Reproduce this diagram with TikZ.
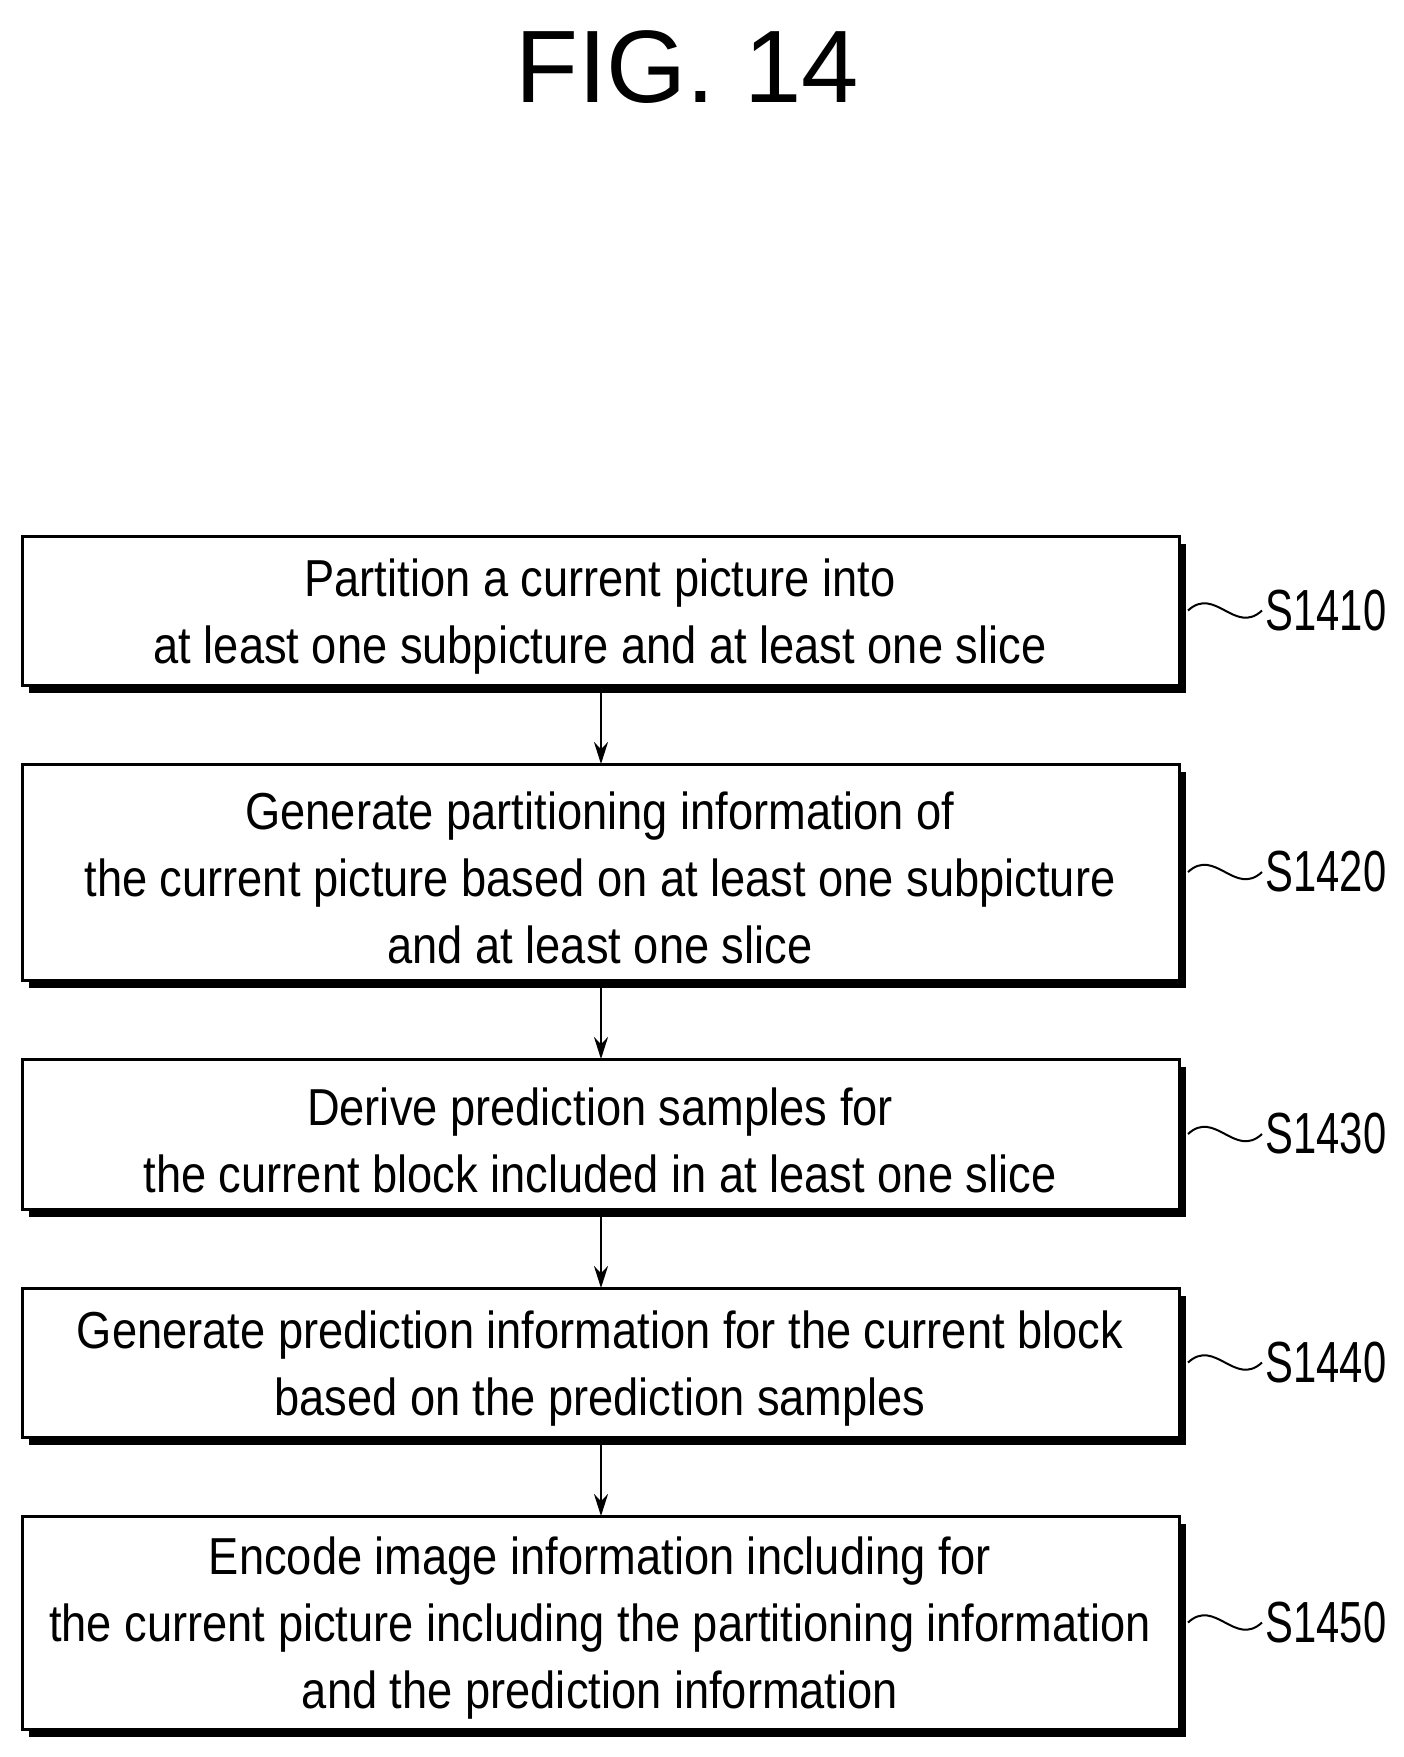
\documentclass[tikz,border=0pt]{standalone}
\usepackage{fontspec}
\setmainfont{Liberation Sans}[FakeStretch=0.87]
\newfontfamily\titlefont{Liberation Sans}[FakeStretch=1.0]
\newfontfamily\labfont{Liberation Sans}[FakeStretch=0.72]
\usetikzlibrary{arrows.meta}
\begin{document}
\begin{tikzpicture}[x=1pt,y=-1pt,
  box/.style={align=center,font=\fontsize{52}{67}\selectfont,inner sep=0},
  arr/.style={line width=2.5pt,-{Stealth[length=22pt,width=14pt]}},
  lab/.style={font=\labfont\fontsize{58}{60}\selectfont,anchor=west}]
\useasboundingbox (0,0) rectangle (1404,1757);
\node[font=\titlefont\fontsize{103}{110}\selectfont] (title) at (687,67) {FIG. 14};
\foreach \n/\a/\b/\t/\s in {
 1/536/685/{Partition a current picture into\\at least one subpicture and at least one slice}/S1410,
 2/764/980/{Generate partitioning information of\\the current picture based on at least one subpicture\\and at least one slice}/S1420,
 3/1059/1209/{Derive prediction samples for\\the current block included in at least one slice}/S1430,
 4/1288/1437/{Generate prediction information for the current block\\based on the prediction samples}/S1440,
 5/1516/1729/{Encode image information including for\\the current picture including the partitioning information\\and the prediction information}/S1450}{
  \fill (29,\a+8) rectangle (1186,\b+8);
  \draw[line width=3pt,fill=white] (22,\a) rectangle (1179,\b);
  \node[box] (b\n) at (600,{(\a+\b)/2+6}) {\t};
  \coordinate (t\n) at (601,\a);
  \coordinate (o\n) at (601,\b+8);
  \coordinate (e\n) at (1188,{(\a+\b)/2});
  \node[lab] (s\n) at (1262,{(\a+\b)/2}) {\s};
  \draw[line width=2pt] (e\n) .. controls (1215,{(\a+\b)/2-25}) and (1235,{(\a+\b)/2+25}) .. (s\n.west);
}
\foreach \i/\j in {1/2,2/3,3/4,4/5}{\draw[arr] (o\i) -- (t\j);}
\end{tikzpicture}
\end{document}
